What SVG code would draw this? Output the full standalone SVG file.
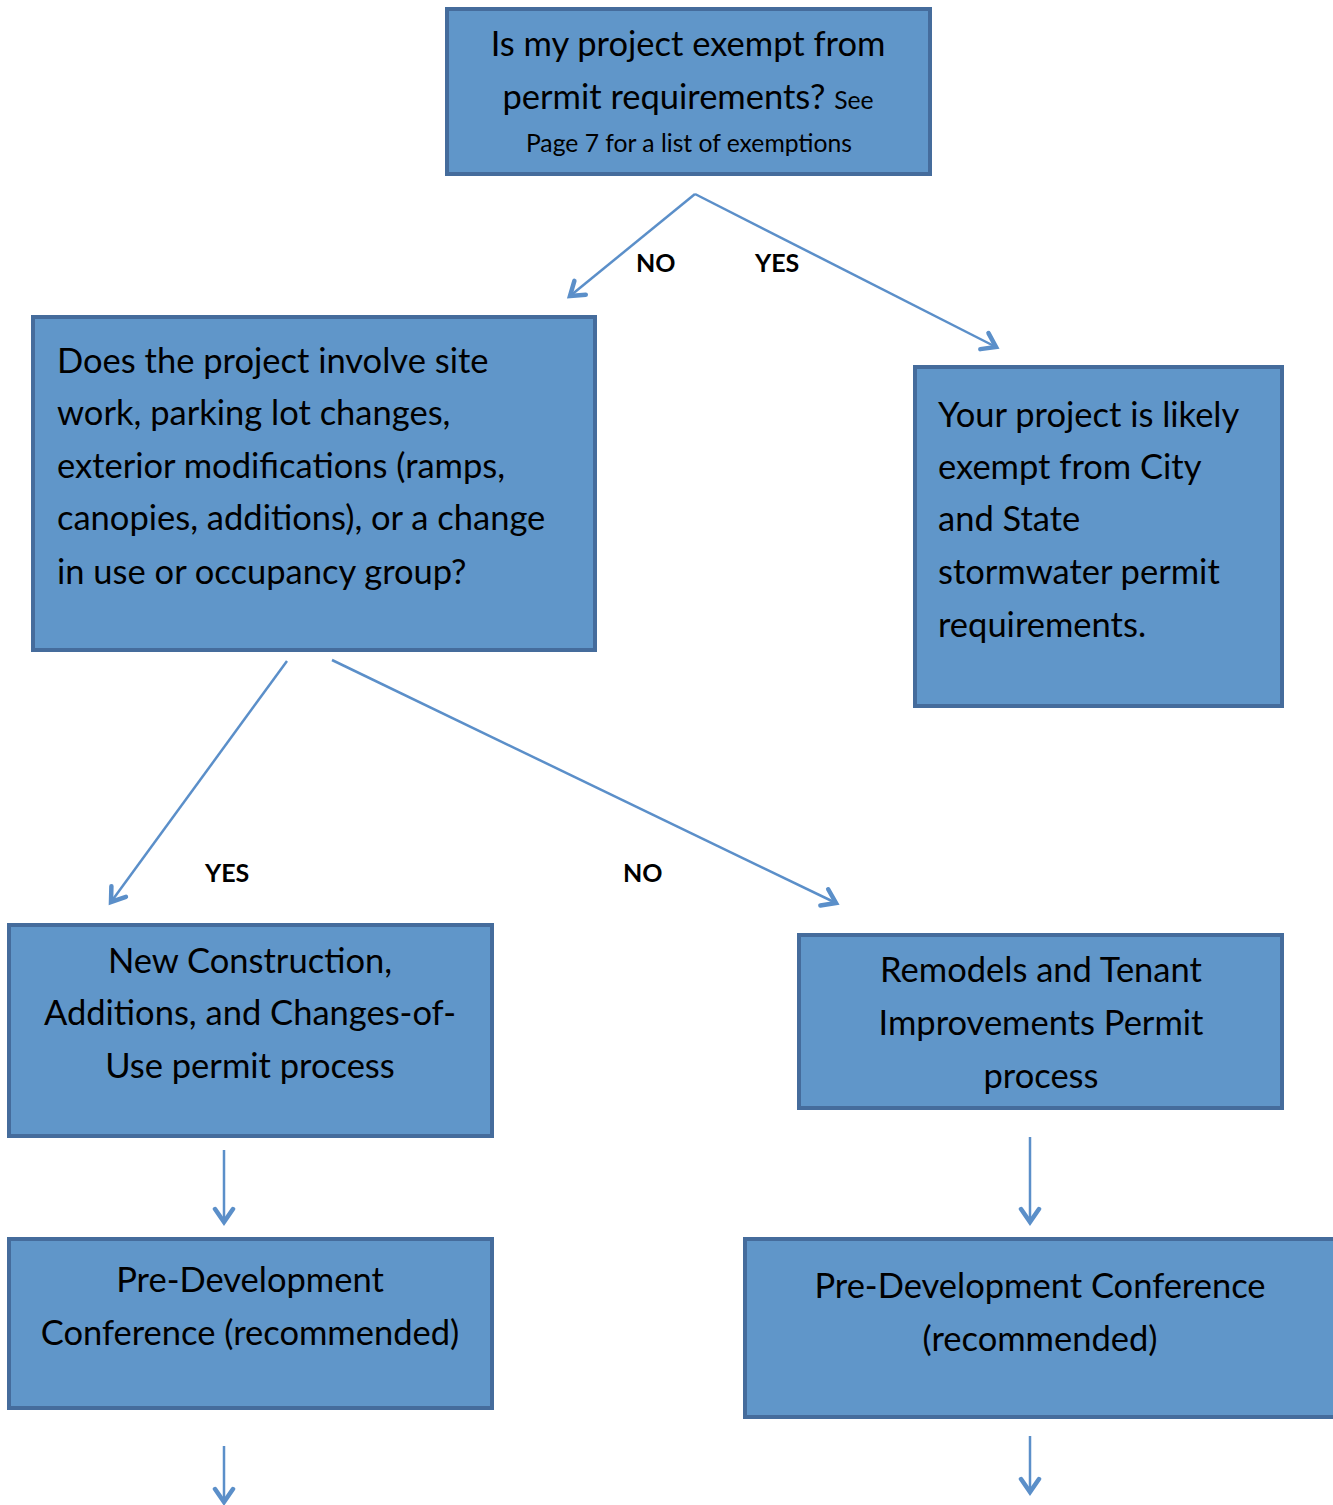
<svg xmlns="http://www.w3.org/2000/svg" width="1333" height="1505" viewBox="0 0 1333 1505">
<style>
.box{fill:#6096C9;stroke:#456C9C;stroke-width:4}
.t{font-family:Lato,"Open Sans",sans-serif;font-size:34.5px;fill:#000}
.c{text-anchor:middle}
.s{font-size:24.7px}
.lbl{font-family:Lato,"Open Sans",sans-serif;font-size:25px;font-weight:bold;fill:#000}
.conn{stroke:#5B8FC9;stroke-width:2.5;fill:none}
</style>
<defs>
<marker id="ah" viewBox="0 0 24 24" refX="19" refY="12" markerWidth="24" markerHeight="24" markerUnits="userSpaceOnUse" orient="auto">
<path d="M6,3 L19,12 L6,21" fill="none" stroke="#5B8FC9" stroke-width="4.5" stroke-linecap="round" stroke-linejoin="miter"/>
</marker>
</defs>
<rect width="1333" height="1505" fill="#fff"/>
<g id="connectors">
<line class="conn" x1="695" y1="194" x2="570" y2="296" marker-end="url(#ah)"/>
<line class="conn" x1="695" y1="194" x2="996" y2="347" marker-end="url(#ah)"/>
<line class="conn" x1="287" y1="661" x2="111" y2="902" marker-end="url(#ah)"/>
<line class="conn" x1="332" y1="660" x2="836" y2="903" marker-end="url(#ah)"/>
<line class="conn" x1="224" y1="1150" x2="224" y2="1222" marker-end="url(#ah)"/>
<line class="conn" x1="1030" y1="1137" x2="1030" y2="1222" marker-end="url(#ah)"/>
<line class="conn" x1="224" y1="1446" x2="224" y2="1502" marker-end="url(#ah)"/>
<line class="conn" x1="1030" y1="1436" x2="1030" y2="1492" marker-end="url(#ah)"/>
<text class="lbl" x="636" y="272">NO</text>
<text class="lbl" x="755" y="272">YES</text>
<text class="lbl" x="205" y="882">YES</text>
<text class="lbl" x="623" y="882">NO</text>
</g>
<g id="n1">
<rect class="box" x="447" y="9" width="483" height="165"/>
<text class="t c" x="688" y="56">Is my project exempt from</text>
<text class="t c" x="688" y="109">permit requirements? <tspan class="s">See</tspan></text>
<text class="t c s" x="689" y="152">Page 7 for a list of exemptions</text>
</g>
<g id="n2">
<rect class="box" x="33" y="317" width="562" height="333"/>
<text class="t" x="57" y="373">Does the project involve site</text>
<text class="t" x="57" y="425">work, parking lot changes,</text>
<text class="t" x="57" y="478">exterior modifications (ramps,</text>
<text class="t" x="57" y="530">canopies, additions), or a change</text>
<text class="t" x="57" y="584">in use or occupancy group?</text>
</g>
<g id="n3">
<rect class="box" x="915" y="367" width="367" height="339"/>
<text class="t" x="938" y="427">Your project is likely</text>
<text class="t" x="938" y="479">exempt from City</text>
<text class="t" x="938" y="531">and State</text>
<text class="t" x="938" y="584">stormwater permit</text>
<text class="t" x="938" y="637">requirements.</text>
</g>
<g id="n4">
<rect class="box" x="9" y="925" width="483" height="211"/>
<text class="t c" x="250" y="973">New Construction,</text>
<text class="t c" x="250" y="1025">Additions, and Changes-of-</text>
<text class="t c" x="250" y="1078">Use permit process</text>
</g>
<g id="n5">
<rect class="box" x="799" y="935" width="483" height="173"/>
<text class="t c" x="1041" y="982">Remodels and Tenant</text>
<text class="t c" x="1041" y="1035">Improvements Permit</text>
<text class="t c" x="1041" y="1088">process</text>
</g>
<g id="n6">
<rect class="box" x="9" y="1239" width="483" height="169"/>
<text class="t c" x="250" y="1292">Pre-Development</text>
<text class="t c" x="250" y="1345">Conference (recommended)</text>
</g>
<g id="n7">
<rect class="box" x="745" y="1239" width="596" height="178"/>
<text class="t c" x="1040" y="1298">Pre-Development Conference</text>
<text class="t c" x="1040" y="1351">(recommended)</text>
</g>
</svg>
